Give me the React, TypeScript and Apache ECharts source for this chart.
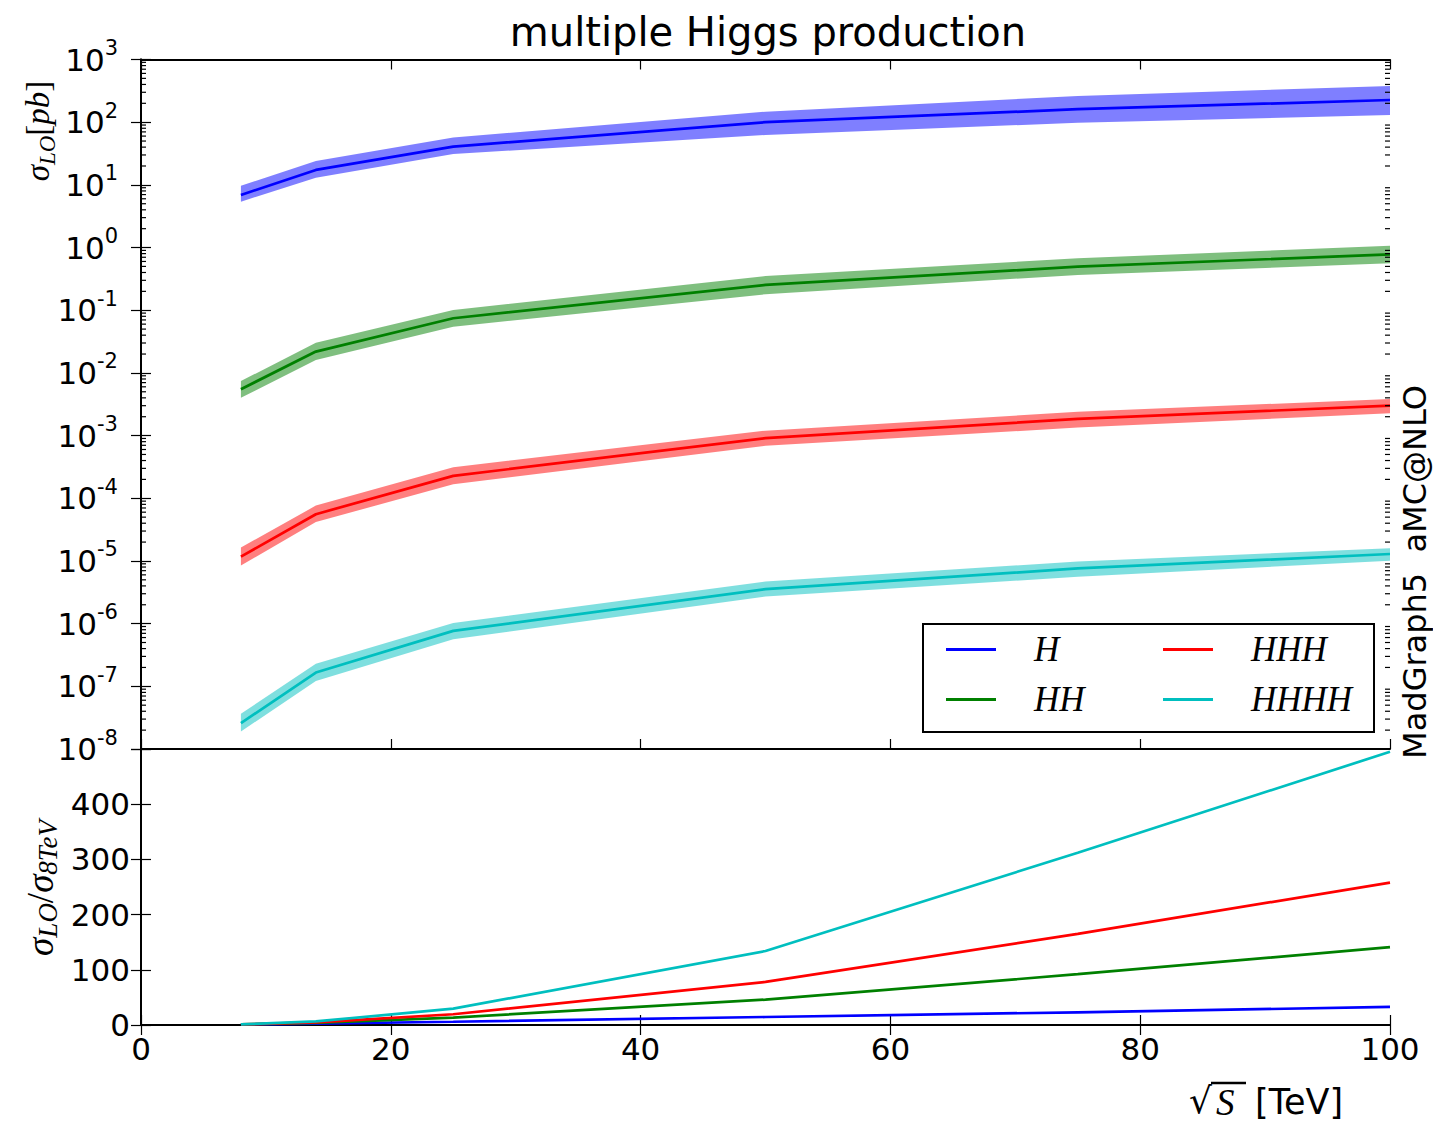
import React, { useEffect, useRef } from 'react';
import * as echarts from 'echarts';

// sqrt(S) in TeV
const XS = [8, 14, 25, 50, 75, 100];

// sigma_LO [pb] central values and scale-variation band edges
const SIG_H = [6.9, 17.3, 40.7, 100, 161, 226];
const SIG_H_UP = [9.7, 24, 57, 147, 262, 378];
const SIG_H_LO = [5.4, 13, 31, 62.5, 98, 130];

const SIG_HH = [0.0055, 0.0219, 0.0745, 0.253, 0.495, 0.78];
const SIG_HH_UP = [0.0074, 0.0304, 0.101, 0.35, 0.674, 1.07];
const SIG_HH_LO = [0.004, 0.0161, 0.0547, 0.18, 0.366, 0.56];

const SIG_HHH = [1.17e-5, 5.57e-5, 2.28e-4, 9.1e-4, 1.85e-3, 3.0e-3];
const SIG_HHH_UP = [1.64e-5, 7.64e-5, 3.13e-4, 1.2e-3, 2.39e-3, 3.85e-3];
const SIG_HHH_LO = [8.45e-6, 4.17e-5, 1.68e-4, 6.86e-4, 1.34e-3, 2.27e-3];

const SIG_HHHH = [2.59e-8, 1.66e-7, 7.67e-7, 3.55e-6, 7.6e-6, 1.29e-5];
const SIG_HHHH_UP = [3.64e-8, 2.29e-7, 1.02e-6, 4.69e-6, 9.8e-6, 1.6e-5];
const SIG_HHHH_LO = [1.9e-8, 1.22e-7, 5.66e-7, 2.7e-6, 5.6e-6, 1.01e-5];

// ratio sigma_LO / sigma_8TeV
const RATIO_H = [1, 2.5, 5.9, 14.5, 23, 32.7];
const RATIO_HH = [1, 4, 13.5, 46, 92, 141];
const RATIO_HHH = [1, 4.8, 19.5, 78, 165, 258];
const RATIO_HHHH = [1, 6.4, 29.6, 134, 312, 495];

const NAMES = ['H', 'HH', 'HHH', 'HHHH'];
const COLORS = ['#0000ff', '#008000', '#ff0000', '#00bfbf'];

const SANS = '"DejaVu Sans", sans-serif';
const SERIF = '"Liberation Serif", "DejaVu Serif", serif';

function minorTickValues(): number[] {
  const out: number[] = [];
  for (let k = -8; k <= 2; k++) {
    for (let m = 2; m <= 9; m++) out.push(m * Math.pow(10, k));
  }
  return out;
}

export default function App() {
  const ref = useRef<HTMLDivElement>(null);

  useEffect(() => {
    if (!ref.current) return;
    const chart = echarts.init(ref.current, undefined, { renderer: 'svg' });

    const central = [SIG_H, SIG_HH, SIG_HHH, SIG_HHHH];
    const ups = [SIG_H_UP, SIG_HH_UP, SIG_HHH_UP, SIG_HHHH_UP];
    const los = [SIG_H_LO, SIG_HH_LO, SIG_HHH_LO, SIG_HHHH_LO];
    const ratios = [RATIO_H, RATIO_HH, RATIO_HHH, RATIO_HHHH];

    const axisLine = { show: true, lineStyle: { color: '#000', width: 2 } };
    const tickIn = { show: true, inside: true, length: 10, lineStyle: { color: '#000', width: 1.2 } };

    const bandSeries = NAMES.map((n, si) => ({
      type: 'custom',
      name: n + ' band',
      xAxisIndex: 0,
      yAxisIndex: 0,
      z: 1,
      clip: false,
      data: [[XS[0], central[si][0]]],
      renderItem: (params: any, api: any) => {
        const pts: number[][] = [];
        for (let i = 0; i < XS.length; i++) pts.push(api.coord([XS[i], ups[si][i]]));
        for (let i = XS.length - 1; i >= 0; i--) pts.push(api.coord([XS[i], los[si][i]]));
        return {
          type: 'polygon',
          shape: { points: pts },
          style: { fill: COLORS[si], opacity: 0.5, stroke: 'none' },
        };
      },
    }));

    const topLines = NAMES.map((n, si) => ({
      type: 'line',
      name: n,
      xAxisIndex: 0,
      yAxisIndex: 0,
      z: 3,
      showSymbol: false,
      color: COLORS[si],
      itemStyle: { color: COLORS[si] },
      lineStyle: { color: COLORS[si], width: 2.7 },
      data: XS.map((x, i) => [x, central[si][i]]),
    }));

    const bottomLines = NAMES.map((n, si) => ({
      type: 'line',
      name: n + ' ratio',
      xAxisIndex: 2,
      yAxisIndex: 2,
      z: 3,
      showSymbol: false,
      lineStyle: { color: COLORS[si], width: 2.7 },
      itemStyle: { color: COLORS[si] },
      data: XS.map((x, i) => [x, ratios[si][i]]),
    }));

    const minorTicks = {
      type: 'custom',
      name: 'minor ticks',
      xAxisIndex: 0,
      yAxisIndex: 0,
      z: 5,
      clip: false,
      silent: true,
      data: minorTickValues().map((v) => [0, v]),
      renderItem: (params: any, api: any) => {
        const v = api.value(1);
        const l = api.coord([0, v]);
        const r = api.coord([100, v]);
        const st = { stroke: '#000', lineWidth: 1.2 };
        return {
          type: 'group',
          children: [
            { type: 'line', shape: { x1: l[0], y1: l[1], x2: l[0] + 5, y2: l[1] }, style: st },
            { type: 'line', shape: { x1: r[0] - 5, y1: r[1], x2: r[0], y2: r[1] }, style: st },
          ],
        };
      },
    };

    const logLabel = {
      show: true,
      margin: 23,
      formatter: (v: number) => {
        const e = Math.round(Math.log10(v));
        return '{b|10}{e|' + e + '}';
      },
      rich: {
        b: { fontFamily: SANS, fontSize: 31, lineHeight: 44, color: '#000' },
        e: { fontFamily: SANS, fontSize: 21, lineHeight: 21, verticalAlign: 'top', color: '#000' },
      },
    };

    const legendCommon = {
      orient: 'vertical',
      padding: 0,
      itemGap: 15,
      itemWidth: 50,
      itemHeight: 3,
      icon: 'rect',
      z: 6,
      selectedMode: false,
      textStyle: {
        fontFamily: SERIF,
        fontStyle: 'italic',
        fontSize: 35,
        lineHeight: 32,
        color: '#000',
        padding: [0, 0, 0, 33],
      },
    };

    const sigmaRich = (s: number, sub: number) => ({
      s: { fontFamily: SERIF, fontStyle: 'italic', fontSize: s, lineHeight: 42, fill: '#000' },
      n: { fontFamily: SERIF, fontSize: s, lineHeight: 42, fill: '#000' },
      sub: { fontFamily: SERIF, fontStyle: 'italic', fontSize: sub, lineHeight: sub, verticalAlign: 'bottom', fill: '#000' },
    });

    const option: any = {
      animation: false,
      backgroundColor: '#fff',
      grid: [
        { left: 141, top: 59.5, width: 1249, height: 689.5, outerBoundsMode: 'none' },
        { left: 141, top: 749, width: 1249, height: 276, outerBoundsMode: 'none' },
      ],
      xAxis: [
        { type: 'value', gridIndex: 0, min: 0, max: 100, interval: 20, position: 'bottom', axisLine, axisTick: tickIn, axisLabel: { show: false }, splitLine: { show: false } },
        { type: 'value', gridIndex: 0, min: 0, max: 100, interval: 20, position: 'top', axisLine, axisTick: tickIn, axisLabel: { show: false }, splitLine: { show: false } },
        {
          type: 'value', gridIndex: 1, min: 0, max: 100, interval: 20, position: 'bottom', axisLine, axisTick: tickIn,
          axisLabel: { show: true, margin: 8, fontFamily: SANS, fontSize: 31, color: '#000' },
          splitLine: { show: false },
        },
        { type: 'value', gridIndex: 1, min: 0, max: 100, interval: 20, position: 'top', axisLine, axisTick: tickIn, axisLabel: { show: false }, splitLine: { show: false } },
      ],
      yAxis: [
        { type: 'log', logBase: 10, gridIndex: 0, min: 1e-8, max: 1e3, interval: 1, position: 'left', axisLine, axisTick: tickIn, axisLabel: logLabel, splitLine: { show: false }, minorTick: { show: false } },
        { type: 'log', logBase: 10, gridIndex: 0, min: 1e-8, max: 1e3, interval: 1, position: 'right', axisLine, axisTick: tickIn, axisLabel: { show: false }, splitLine: { show: false } },
        {
          type: 'value', gridIndex: 1, min: 0, max: 500, interval: 100, position: 'left', axisLine, axisTick: tickIn,
          axisLabel: { show: true, margin: 11, fontFamily: SANS, fontSize: 31, color: '#000', formatter: (v: number) => (v >= 500 ? '' : String(v)) },
          splitLine: { show: false },
        },
        { type: 'value', gridIndex: 1, min: 0, max: 500, interval: 100, position: 'right', axisLine, axisTick: tickIn, axisLabel: { show: false }, splitLine: { show: false } },
      ],
      legend: [
        { ...legendCommon, left: 946, top: 632, data: ['H', 'HH'] },
        { ...legendCommon, left: 1163, top: 632, data: ['HHH', 'HHHH'] },
      ],
      graphic: [
        {
          type: 'rect', z: 5, shape: { x: 923, y: 624, width: 451, height: 108 },
          style: { fill: '#fff', stroke: '#000', lineWidth: 2 },
        },
        {
          type: 'text', x: 768, y: 32, z: 10,
          style: { text: 'multiple Higgs production', fontFamily: SANS, fontSize: 40, fill: '#000', align: 'center', verticalAlign: 'middle' },
        },
        {
          type: 'text', x: 1415, y: 572, rotation: Math.PI / 2, z: 10,
          style: { text: 'MadGraph5  aMC@NLO', fontFamily: SANS, fontSize: 32, lineHeight: 32, fill: '#000', align: 'center', verticalAlign: 'middle' },
        },
        {
          type: 'text', x: 38, y: 131, rotation: Math.PI / 2, z: 10,
          style: { text: '{s|σ}{sub|LO}{n|[}{s|pb}{n|]}', align: 'center', verticalAlign: 'middle', rich: sigmaRich(33, 23) },
        },
        {
          type: 'text', x: 40, y: 888, rotation: Math.PI / 2, z: 10,
          style: { text: '{s|σ}{sub|LO}{n|/}{s|σ}{sub|8TeV}', align: 'center', verticalAlign: 'middle', rich: sigmaRich(37, 27) },
        },
        {
          type: 'text', x: 1189, y: 1100, z: 10,
          style: { text: '√', fontFamily: SANS, fontSize: 36, lineHeight: 32, fill: '#000', align: 'left', verticalAlign: 'middle' },
        },
        {
          type: 'text', x: 1216, y: 1102, z: 10,
          style: { text: 'S', fontFamily: SERIF, fontStyle: 'italic', fontSize: 37, lineHeight: 34, fill: '#000', align: 'left', verticalAlign: 'middle' },
        },
        {
          type: 'text', x: 1255, y: 1102, z: 10,
          style: { text: '[TeV]', fontFamily: SANS, fontSize: 35, lineHeight: 34, fill: '#000', align: 'left', verticalAlign: 'middle' },
        },
        {
          type: 'line', z: 10, shape: { x1: 1211, y1: 1083, x2: 1246, y2: 1083 },
          style: { stroke: '#000', lineWidth: 2.5 },
        },
      ],
      series: [...bandSeries, ...topLines, ...bottomLines, minorTicks],
    };

    chart.setOption(option);
    return () => chart.dispose();
  }, []);

  return <div ref={ref} style={{ position: 'fixed', left: 0, top: 0, width: 1433, height: 1122 }} />;
}
